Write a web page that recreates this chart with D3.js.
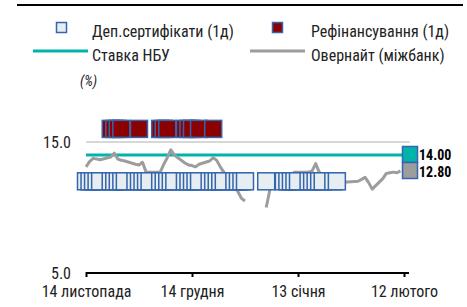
<!DOCTYPE html>
<html>
<head>
<meta charset="utf-8">
<script src="https://cdn.jsdelivr.net/npm/d3@7"></script>
<style>
  body { margin: 0; background: #fff; }
  svg text { font-family: "Liberation Sans Narrow", "Arial Narrow", "Roboto Condensed", sans-serif; }
</style>
</head>
<body>
<div id="chart"></div>
<script>
var svgWidth = 467;
var svgHeight = 307;

// axis ticks
var tickDates = ["2016-11-14", "2016-12-14", "2017-01-13", "2017-02-12"];
var tickLabels = ["14 листопада", "14 грудня", "13 січня", "12 лютого"];
var yTicks = [5, 15];

// NBU key rate
var nbuDates = ["2016-11-14", "2017-02-12"];
var nbuValues = [14.0, 14.0];

// overnight interbank rate (null = no data)
var overnightDates = [
  "2016-11-14", "2016-11-15", "2016-11-16", "2016-11-17", "2016-11-18",
  "2016-11-21", "2016-11-22", "2016-11-23", "2016-11-24", "2016-11-25",
  "2016-11-28", "2016-11-29", "2016-11-30", "2016-12-01", "2016-12-02",
  "2016-12-05", "2016-12-06", "2016-12-07", "2016-12-08", "2016-12-09",
  "2016-12-12", "2016-12-13", "2016-12-14", "2016-12-15", "2016-12-16",
  "2016-12-19", "2016-12-20", "2016-12-21", "2016-12-22", "2016-12-23",
  "2016-12-26", "2016-12-27", "2016-12-28", "2016-12-29", "2016-12-30",
  "2017-01-04", "2017-01-05", "2017-01-06",
  "2017-01-10", "2017-01-11", "2017-01-12", "2017-01-13",
  "2017-01-16", "2017-01-17", "2017-01-18", "2017-01-19", "2017-01-20",
  "2017-01-23", "2017-01-24", "2017-01-25", "2017-01-26", "2017-01-27",
  "2017-01-30", "2017-01-31", "2017-02-01", "2017-02-02", "2017-02-03",
  "2017-02-06", "2017-02-07", "2017-02-08", "2017-02-09", "2017-02-10",
  "2017-02-11"
];
var overnightValues = [
  13.1, 13.5, 13.75, 13.7, 13.65,
  13.85, 14.15, 13.7, 13.6, 13.55,
  13.3, 13.25, 13.45, 12.7, 12.7,
  12.7, 13.3, 13.8, 14.4, 14.0,
  13.4, 13.25, 13.2, 13.1, 13.3,
  13.55, 13.8, 13.6, 13.1, 12.7,
  11.6, 11.2, 10.7, 10.5, null,
  10.0, 11.3, 12.0,
  12.3, 12.5, 12.7, 12.7,
  12.7, 12.8, 13.35, 12.7, 12.5,
  12.2, 12.0, 12.0, 11.95, 11.95,
  12.0, 12.15, 12.3, 11.9, 11.4,
  12.2, 12.6, 12.65, 12.7, 12.65,
  12.8
];

// deposit certificates (1d), 12%
var depositDates = [
  "2016-11-14", "2016-11-15", "2016-11-16", "2016-11-17", "2016-11-18",
  "2016-11-21", "2016-11-22", "2016-11-23", "2016-11-24", "2016-11-25",
  "2016-11-28", "2016-11-29", "2016-11-30", "2016-12-01", "2016-12-02",
  "2016-12-05", "2016-12-06", "2016-12-07", "2016-12-08", "2016-12-09",
  "2016-12-12", "2016-12-13", "2016-12-14", "2016-12-15", "2016-12-16",
  "2016-12-19", "2016-12-20", "2016-12-21", "2016-12-22", "2016-12-23",
  "2016-12-26", "2016-12-27", "2016-12-28", "2016-12-29",
  "2017-01-04", "2017-01-09",
  "2017-01-10", "2017-01-11", "2017-01-12", "2017-01-13",
  "2017-01-16", "2017-01-17", "2017-01-18", "2017-01-19", "2017-01-20",
  "2017-01-23", "2017-01-24"
];
var depositRate = 12.0;

// refinancing (1d), 16%
var refiDates = [
  "2016-11-21", "2016-11-22", "2016-11-23", "2016-11-24", "2016-11-29",
  "2016-12-05", "2016-12-06", "2016-12-07", "2016-12-12", "2016-12-13",
  "2016-12-14", "2016-12-16", "2016-12-20"
];
var refiRate = 16.0;

// last values shown at the right edge
var endLabels = ["14.00", "12.80"];

var parseDate = d3.timeParse("%Y-%m-%d");

var svg = d3.select("#chart")
  .append("svg")
  .attr("width", svgWidth)
  .attr("height", svgHeight);

var xScale = d3.scaleTime()
  .domain([parseDate(tickDates[0]), parseDate(tickDates[tickDates.length - 1])])
  .range([86, 404]);

var yScale = d3.scaleLinear()
  .domain([5, 15])
  .range([273, 142]);

// top rule
svg.append("line")
  .attr("x1", 17).attr("x2", 463)
  .attr("y1", 5).attr("y2", 5)
  .attr("stroke", "#000")
  .attr("stroke-width", 2);

// legend
var legend = svg.append("g").attr("font-size", "16px").attr("fill", "#222");
legend.append("rect")
  .attr("x", 56.5).attr("y", 22.5).attr("width", 10).attr("height", 10)
  .attr("fill", "#e6eef2").attr("stroke", "#3565ad").attr("stroke-width", 1.5);
legend.append("text").attr("x", 92).attr("y", 37).text("Деп.сертифікати (1д)");
legend.append("rect")
  .attr("x", 272.5).attr("y", 22.5).attr("width", 10).attr("height", 10)
  .attr("fill", "#8b0000").attr("stroke", "#3565ad").attr("stroke-width", 1.5);
legend.append("text").attr("x", 311).attr("y", 37).text("Рефінансування (1д)");
legend.append("line")
  .attr("x1", 33).attr("x2", 88).attr("y1", 51).attr("y2", 51)
  .attr("stroke", "#00b4ac").attr("stroke-width", 3);
legend.append("text").attr("x", 92).attr("y", 61).text("Ставка НБУ");
legend.append("line")
  .attr("x1", 250).attr("x2", 305).attr("y1", 51).attr("y2", 51)
  .attr("stroke", "#9d9d9d").attr("stroke-width", 3);
legend.append("text").attr("x", 311).attr("y", 61).text("Овернайт (міжбанк)");
legend.append("text").attr("x", 80).attr("y", 86)
  .attr("font-style", "italic").attr("font-size", "14px").text("(%)");

// gridline at 15
svg.append("line")
  .attr("x1", 86).attr("x2", 410)
  .attr("y1", yScale(15)).attr("y2", yScale(15))
  .attr("stroke", "#cacaca")
  .attr("stroke-width", 1.5);

// y labels
svg.append("g").selectAll("text")
  .data(yTicks)
  .enter()
  .append("text")
  .attr("x", 71)
  .attr("y", d => yScale(d) + 6)
  .attr("text-anchor", "end")
  .attr("font-size", "16px")
  .attr("fill", "#222")
  .text(d => d.toFixed(1));

// x axis
var xAxis = d3.axisBottom(xScale)
  .tickValues(tickDates.map(parseDate))
  .tickSize(4)
  .tickSizeOuter(0)
  .tickFormat((d, i) => tickLabels[i]);

var axisG = svg.append("g")
  .attr("transform", `translate(0, ${yScale(5)})`)
  .call(xAxis);
axisG.select(".domain").remove();
axisG.selectAll(".tick line").attr("stroke", "#000").attr("stroke-width", 2).attr("y1", -1);
axisG.selectAll(".tick text")
  .attr("y", 13)
  .attr("font-size", "16px")
  .attr("font-family", null)
  .attr("fill", "#222");
axisG.append("line")
  .attr("x1", 86).attr("x2", 409)
  .attr("y1", 0).attr("y2", 0)
  .attr("stroke", "#000")
  .attr("stroke-width", 2);

// NBU rate line
var nbuData = nbuDates.map((d, i) => ({ date: parseDate(d), value: nbuValues[i] }));
var line = d3.line()
  .defined(d => d.value !== null)
  .x(d => xScale(d.date))
  .y(d => yScale(d.value));

svg.append("path")
  .datum(nbuData)
  .attr("d", line)
  .attr("fill", "none")
  .attr("stroke", "#00b4ac")
  .attr("stroke-width", 3);

// overnight line
var overnightData = overnightDates.map((d, i) => ({ date: parseDate(d), value: overnightValues[i] }));
svg.append("path")
  .datum(overnightData)
  .attr("d", line)
  .attr("fill", "none")
  .attr("stroke", "#9d9d9d")
  .attr("stroke-width", 3)
  .attr("stroke-linejoin", "round");

// deposit certificate markers
var ms = 17;
svg.append("g").selectAll("rect")
  .data(depositDates.map(parseDate))
  .enter()
  .append("rect")
  .attr("x", d => xScale(d) - ms / 2)
  .attr("y", yScale(depositRate) - ms / 2)
  .attr("width", ms)
  .attr("height", ms)
  .attr("fill", "#e6eef2")
  .attr("stroke", "#3565ad")
  .attr("stroke-width", 1.5);

// refinancing markers
svg.append("g").selectAll("rect")
  .data(refiDates.map(parseDate))
  .enter()
  .append("rect")
  .attr("x", d => xScale(d) - ms / 2)
  .attr("y", yScale(refiRate) - ms / 2)
  .attr("width", ms)
  .attr("height", ms)
  .attr("fill", "#8b0000")
  .attr("stroke", "#3565ad")
  .attr("stroke-width", 1.5);

// end-value boxes and labels
var endColors = ["#00b4ac", "#9d9d9d"];
var endG = svg.append("g");
endG.selectAll("rect")
  .data(endLabels)
  .enter()
  .append("rect")
  .attr("x", 402.5)
  .attr("y", (d, i) => 146.5 + i * 16)
  .attr("width", 15)
  .attr("height", 16)
  .attr("fill", (d, i) => endColors[i])
  .attr("stroke", "#3565ad")
  .attr("stroke-width", 1.5);
endG.selectAll("text")
  .data(endLabels)
  .enter()
  .append("text")
  .attr("x", 419)
  .attr("y", (d, i) => 159.5 + i * 17)
  .attr("font-size", "14px")
  .attr("font-weight", "bold")
  .attr("fill", "#000")
  .text(d => d);
</script>
</body>
</html>
